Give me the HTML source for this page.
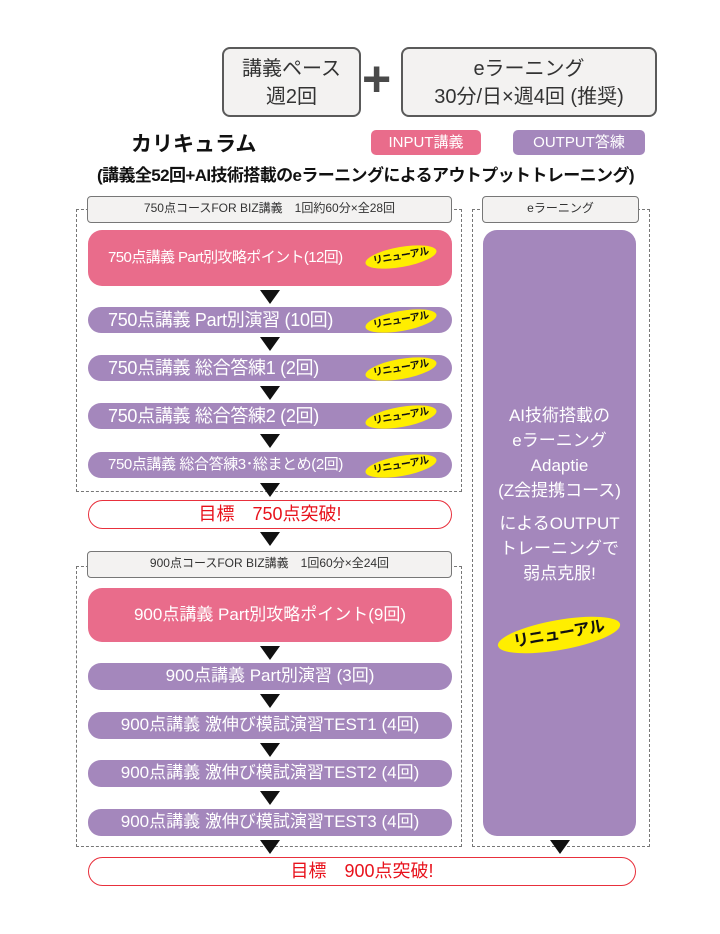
<!DOCTYPE html>
<html><head><meta charset="utf-8"><style>
*{margin:0;padding:0;box-sizing:border-box}
body{width:720px;height:934px;background:#fff;position:relative;font-family:"Liberation Sans","Noto Sans CJK JP",sans-serif;overflow:hidden}
.a{position:absolute}
.gb{position:absolute;background:#f3f2f1;border:2px solid #5a5a5a;border-radius:8px;color:#333;text-align:center}
.hd{position:absolute;background:#f3f2f1;border:1.5px solid #777;border-radius:4px;color:#333;font-size:12px;text-align:center;line-height:22px}
.dash{position:absolute;border:1.5px dashed #777}
.pk{position:absolute;background:#e96c8b;border-radius:14px;color:#fff;text-align:center}
.pu{position:absolute;background:#a487bc;border-radius:13px;color:#fff;text-align:center;font-size:17px;line-height:26px;white-space:nowrap}
.goal{position:absolute;border:1.5px solid #e8303c;border-radius:15px;color:#e8121c;text-align:center;font-size:18px;line-height:26px;background:#fff}
.tri{position:absolute;width:0;height:0;border-left:10px solid transparent;border-right:10px solid transparent;border-top:14px solid #111}
.rn{position:absolute;width:72px;height:20px;background:#ffee00;border-radius:50%;transform:rotate(-10deg);color:#111;font-size:10px;font-weight:bold;text-align:center;line-height:20px;letter-spacing:-0.5px}
</style></head><body>
<div class="gb" style="left:222px;top:47px;width:139px;height:70px;font-size:20px;line-height:28px;padding-top:6px">講義ペース<br>週2回</div>
<div class="a" style="left:362px;top:54px;font-size:50px;font-weight:bold;color:#4a4a4a;line-height:50px">+</div>
<div class="gb" style="left:401px;top:47px;width:256px;height:70px;font-size:20px;line-height:28px;padding-top:6px">eラーニング<br>30分/日×週4回 (推奨)</div>
<div class="a" style="left:131px;top:128px;font-size:21px;font-weight:bold;color:#111">カリキュラム</div>
<div class="a" style="left:371px;top:130px;width:110px;height:25px;background:#e96c8b;border-radius:5px;color:#fff;font-size:15px;text-align:center;line-height:25px">INPUT講義</div>
<div class="a" style="left:513px;top:130px;width:132px;height:25px;background:#a487bc;border-radius:5px;color:#fff;font-size:15px;text-align:center;line-height:25px">OUTPUT答練</div>
<div class="a" style="left:97px;top:161px;font-size:17px;font-weight:bold;color:#111;white-space:nowrap;letter-spacing:-0.6px">(講義全52回+AI技術搭載のeラーニングによるアウトプットトレーニング)</div>

<div class="dash" style="left:76px;top:209px;width:386px;height:283px"></div>
<div class="dash" style="left:472px;top:209px;width:178px;height:638px"></div>
<div class="dash" style="left:76px;top:566px;width:386px;height:281px"></div>
<div class="hd" style="left:87px;top:196px;width:365px;height:27px">750点コースFOR BIZ講義　1回約60分×全28回</div>
<div class="hd" style="left:482px;top:196px;width:157px;height:27px">eラーニング</div>
<div class="hd" style="left:87px;top:551px;width:365px;height:27px">900点コースFOR BIZ講義　1回60分×全24回</div>

<div class="pk" style="left:88px;top:230px;width:364px;height:56px;font-size:15px;line-height:56px;text-align:left;padding-left:20px;letter-spacing:-0.6px">750点講義 Part別攻略ポイント(12回)</div>
<div class="rn" style="left:365px;top:247px">リニューアル</div>
<div class="tri" style="left:260px;top:290px"></div>
<div class="pu" style="left:88px;top:307px;width:364px;text-align:left;padding-left:20px;font-size:18px;letter-spacing:-0.3px">750点講義 Part別演習 (10回)</div>
<div class="rn" style="left:365px;top:311px">リニューアル</div>
<div class="tri" style="left:260px;top:337px"></div>
<div class="pu" style="left:88px;top:355px;width:364px;text-align:left;padding-left:20px;font-size:18px;letter-spacing:-0.3px">750点講義 総合答練1 (2回)</div>
<div class="rn" style="left:365px;top:359px">リニューアル</div>
<div class="tri" style="left:260px;top:386px"></div>
<div class="pu" style="left:88px;top:403px;width:364px;text-align:left;padding-left:20px;font-size:18px;letter-spacing:-0.3px">750点講義 総合答練2 (2回)</div>
<div class="rn" style="left:365px;top:407px">リニューアル</div>
<div class="tri" style="left:260px;top:434px"></div>
<div class="pu" style="left:88px;top:452px;width:364px;text-align:left;padding-left:20px;font-size:15px;letter-spacing:-0.4px">750点講義 総合答練3･総まとめ(2回)</div>
<div class="rn" style="left:365px;top:456px">リニューアル</div>
<div class="tri" style="left:260px;top:483px"></div>
<div class="goal" style="left:88px;top:500px;width:364px;height:29px">目標　750点突破!</div>
<div class="tri" style="left:260px;top:532px"></div>

<div class="pk" style="left:88px;top:588px;width:364px;height:54px;font-size:17px;line-height:54px">900点講義 Part別攻略ポイント(9回)</div>
<div class="tri" style="left:260px;top:646px"></div>
<div class="pu" style="left:88px;top:663px;width:364px;height:27px">900点講義 Part別演習 (3回)</div>
<div class="tri" style="left:260px;top:694px"></div>
<div class="pu" style="left:88px;top:712px;width:364px;height:27px">900点講義 激伸び模試演習TEST1 (4回)</div>
<div class="tri" style="left:260px;top:743px"></div>
<div class="pu" style="left:88px;top:760px;width:364px;height:27px">900点講義 激伸び模試演習TEST2 (4回)</div>
<div class="tri" style="left:260px;top:791px"></div>
<div class="pu" style="left:88px;top:809px;width:364px;height:27px">900点講義 激伸び模試演習TEST3 (4回)</div>
<div class="tri" style="left:260px;top:840px"></div>
<div class="tri" style="left:550px;top:840px"></div>
<div class="goal" style="left:88px;top:857px;width:548px;height:29px">目標　900点突破!</div>

<div class="a" style="left:483px;top:230px;width:153px;height:606px;background:#a487bc;border-radius:14px;color:#fff;text-align:center;font-size:17px;line-height:25px;padding-top:173px">AI技術搭載の<br>eラーニング<br>Adaptie<br>(Z会提携コース)<div style="height:8px"></div>によるOUTPUT<br>トレーニングで<br>弱点克服!</div>
<div class="rn" style="left:497px;top:620px;width:124px;height:30px;line-height:30px;font-size:16px">リニューアル</div>
</body></html>
